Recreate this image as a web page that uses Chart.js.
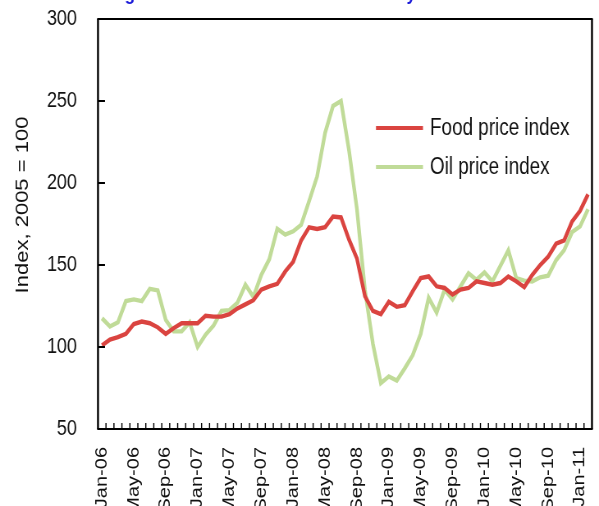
<!DOCTYPE html>
<html>
<head>
<meta charset="utf-8">
<script src="https://cdn.jsdelivr.net/npm/chart.js@4"></script>
<style>
    html, body { margin: 0; padding: 0; background: #ffffff; overflow: hidden; }
    #wrap { width: 599px; height: 506px; overflow: hidden; }
    /* the original figure is a horizontally squeezed picture */
    #chart { transform: scaleX(0.8205); transform-origin: 0 0; }
</style>
</head>
<body>
<div id="wrap"><canvas id="chart" width="730" height="506"></canvas></div>
<script>
// Months, Jan-06 to Feb-11
const months = [
    'Jan-06', 'Feb-06', 'Mar-06', 'Apr-06', 'May-06', 'Jun-06', 'Jul-06', 'Aug-06', 'Sep-06', 'Oct-06', 'Nov-06', 'Dec-06',
    'Jan-07', 'Feb-07', 'Mar-07', 'Apr-07', 'May-07', 'Jun-07', 'Jul-07', 'Aug-07', 'Sep-07', 'Oct-07', 'Nov-07', 'Dec-07',
    'Jan-08', 'Feb-08', 'Mar-08', 'Apr-08', 'May-08', 'Jun-08', 'Jul-08', 'Aug-08', 'Sep-08', 'Oct-08', 'Nov-08', 'Dec-08',
    'Jan-09', 'Feb-09', 'Mar-09', 'Apr-09', 'May-09', 'Jun-09', 'Jul-09', 'Aug-09', 'Sep-09', 'Oct-09', 'Nov-09', 'Dec-09',
    'Jan-10', 'Feb-10', 'Mar-10', 'Apr-10', 'May-10', 'Jun-10', 'Jul-10', 'Aug-10', 'Sep-10', 'Oct-10', 'Nov-10', 'Dec-10',
    'Jan-11', 'Feb-11'
];

// Index, 2005 = 100
const foodIndex = [
    101, 104.5, 106, 108, 114, 115.5, 114.5, 112, 108, 111.5, 114.5, 114.5,
    114.5, 119, 118.5, 118.5, 120, 123.5, 126, 128.5, 135, 137, 138.5, 146,
    152, 165, 173, 172, 173, 179.5, 179, 165.5, 154, 131, 122, 120,
    127.5, 124.5, 125.5, 134, 142, 143, 137, 136, 132, 135, 136, 140,
    139, 138, 139, 143, 140, 136.5, 144, 150, 155, 163, 165, 176.5,
    183, 193
];

const oilIndex = [
    117.5, 112.5, 115, 128, 129, 128, 135.5, 134.5, 116.5, 109.5, 109.5, 115,
    100, 107.5, 113, 122, 122.5, 127, 138, 130.5, 144, 153.5, 172, 168.5,
    170.5, 174.5, 189, 204, 230.5, 247, 250, 220, 184, 135, 102, 78,
    82, 79.5, 87, 95, 108, 130, 121, 135, 129, 137, 145, 141,
    145.5, 140, 149.5, 159, 142, 140.5, 140, 142.5, 143.5, 153, 159, 170,
    173.5, 184
];

const yTicks = [50, 100, 150, 200, 250, 300];

const foodColor = 'rgb(218, 68, 64)';
const oilColor = 'rgb(192, 219, 152)';
const SX = 730 / 599; // canvas px per page px, horizontally

// Box, inward tick marks, axis title, legend and the cut-off title
const decorPlugin = {
    id: 'decor',
    afterDraw(chart) {
        const ctx = chart.ctx;
        const area = chart.chartArea;
        const yScale = chart.scales.y;

        ctx.save();
        ctx.strokeStyle = '#000';
        ctx.lineWidth = 2;
        ctx.beginPath();
        ctx.moveTo(area.left - 1, area.top);
        ctx.lineTo(area.right + 1, area.top);
        ctx.moveTo(area.left - 1, area.bottom);
        ctx.lineTo(area.right + 1, area.bottom);
        ctx.stroke();
        ctx.lineWidth = 2.4;
        ctx.beginPath();
        ctx.moveTo(area.left, area.top);
        ctx.lineTo(area.left, area.bottom);
        ctx.moveTo(area.right, area.top);
        ctx.lineTo(area.right, area.bottom);
        ctx.stroke();

        ctx.lineWidth = 2;
        ctx.beginPath();
        yTicks.forEach(v => {
            const y = Math.round(yScale.getPixelForValue(v));
            ctx.moveTo(area.left, y);
            ctx.lineTo(area.left + 7 * SX, y);
        });
        ctx.stroke();
        ctx.lineWidth = 1.4;
        ctx.beginPath();
        const n = months.length;
        const step = (area.right - area.left) / n;
        for (let k = 1; k < n; k++) {
            const x = area.left + k * step;
            ctx.moveTo(x, area.bottom);
            ctx.lineTo(x, area.bottom - 6);
        }
        ctx.stroke();

        // y axis title
        ctx.fillStyle = '#111';
        ctx.font = '22px "Liberation Sans", Arial, sans-serif';
        ctx.textAlign = 'center';
        ctx.textBaseline = 'middle';
        ctx.save();
        ctx.translate(23 * SX, 205);
        ctx.rotate(-Math.PI / 2);
        ctx.fillText('Index, 2005 = 100', 0, 0);
        ctx.restore();

        // legend
        const items = [
            { label: 'Food price index', color: foodColor, y: 128 },
            { label: 'Oil price index', color: oilColor, y: 167 }
        ];
        ctx.font = '23px "Liberation Sans", Arial, sans-serif';
        ctx.textAlign = 'left';
        items.forEach(it => {
            ctx.strokeStyle = it.color;
            ctx.lineWidth = 4;
            ctx.beginPath();
            ctx.moveTo(376 * SX, it.y);
            ctx.lineTo(423 * SX, it.y);
            ctx.stroke();
            ctx.fillStyle = '#111';
            ctx.fillText(it.label, 430 * SX, it.y + 1);
        });

        // title, mostly above the visible page
        ctx.font = 'bold 20.4px "Liberation Sans", Arial, sans-serif';
        ctx.fillStyle = '#1a1ad8';
        ctx.textBaseline = 'alphabetic';
        ctx.fillText('Figure 1. Food and oil indices monthly', 134, 0);
        ctx.restore();
    }
};

new Chart(document.getElementById('chart').getContext('2d'), {
    type: 'line',
    data: {
        labels: months,
        datasets: [
            {
                label: 'Food price index',
                data: foodIndex,
                borderColor: foodColor,
                borderWidth: 4.4,
                pointRadius: 0,
                tension: 0,
                fill: false
            },
            {
                label: 'Oil price index',
                data: oilIndex,
                borderColor: oilColor,
                borderWidth: 4.4,
                pointRadius: 0,
                tension: 0,
                fill: false
            }
        ]
    },
    options: {
        responsive: false,
        animation: false,
        layout: { padding: { left: 0, top: 19, right: 730 - 592 * SX, bottom: 0 } },
        plugins: {
            legend: { display: false },
            tooltip: { enabled: false }
        },
        scales: {
            x: {
                offset: true,
                grid: { display: false, drawTicks: false },
                border: { display: false },
                ticks: {
                    autoSkip: false,
                    maxRotation: 90,
                    minRotation: 90,
                    padding: 18,
                    color: '#111',
                    font: { family: '"Liberation Sans", Arial, sans-serif', size: 20 },
                    callback: (v, i) => (i % 4 === 0 ? months[i] : '')
                },
                afterFit: scale => {
                    scale.height = 77;
                    scale.paddingLeft = 0;
                    scale.paddingRight = 0;
                }
            },
            y: {
                min: 50,
                max: 300,
                grid: { display: false, drawTicks: false },
                border: { display: false },
                ticks: {
                    stepSize: 50,
                    padding: 21 * SX,
                    color: '#111',
                    font: { family: '"Liberation Sans", Arial, sans-serif', size: 22 }
                },
                afterFit: scale => {
                    scale.width = 98 * SX;
                    scale.paddingTop = 0;
                    scale.paddingBottom = 0;
                }
            }
        }
    },
    plugins: [decorPlugin]
});
</script>
</body>
</html>
